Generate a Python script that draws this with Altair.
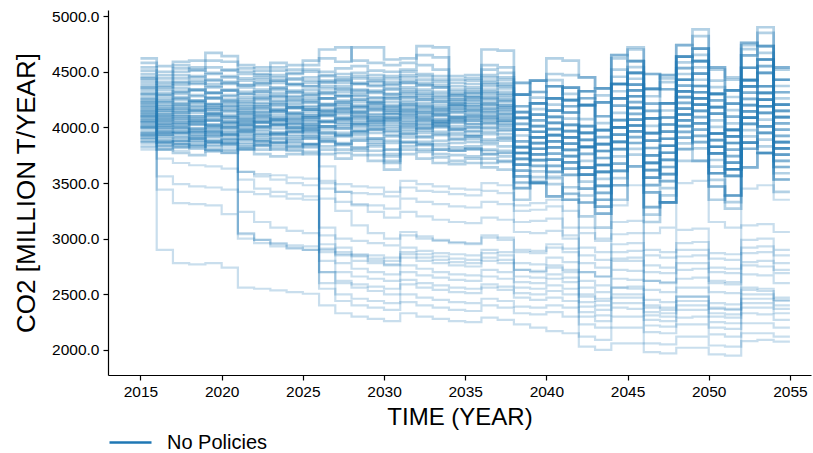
import altair as alt
import pandas as pd

years = list(range(2015, 2056))

# ---- upper band runs (CO2, million t/year), one value per year 2015..2055 ----
u01 = [3870,3800,3770,3750,3790,3770,3800,3760,3740,3760,3780,3760,3720,3750,3700,3620,3760,3720,3680,3670,3680,3640,3620,3350,3502,3380,3350,3200,3100,3480,3650,3150,3327,3700,3700,3469,3270,3640,3770,3420,3420]
u02 = [3905,3840,3820,3850,3800,3790,3830,3800,3830,3790,3760,3800,3770,3790,3750,3680,3800,3780,3730,3700,3720,3680,3700,3455,3502,3380,3462,3325,3350,3480,3650,3283,3327,3908,3812,3350,3388,3864,3770,3532,3532]
u03 = [3930,3870,3850,3830,3870,3850,3810,3840,3800,3820,3850,3830,3800,3820,3790,3700,3830,3800,3760,3750,3740,3720,3690,3560,3502,3490,3350,3325,3225,3350,3755,3416,3327,3804,3700,3469,3388,3640,3770,3644,3644]
u04 = [3960,3900,3880,3900,3860,3880,3850,3870,3900,3860,3840,3870,3850,3880,3830,3760,3860,3840,3800,3790,3810,3760,3740,3455,3604,3710,3574,3575,3350,3610,3965,3283,3454,3804,3924,3588,3624,3864,3770,3644,3644]
u05 = [3985,3920,3910,3880,3920,3900,3930,3890,3870,3900,3920,3890,3860,3900,3880,3800,3910,3870,3850,3820,3830,3800,3790,3560,3502,3600,3686,3450,3225,3610,3860,3416,3327,3908,4036,3588,3388,3864,3890,3532,3532]
u06 = [4010,3950,3940,3960,3930,3950,3900,3930,3950,3920,3900,3940,3920,3950,3900,3860,3940,3920,3880,3860,3870,3850,3830,3665,3808,3710,3686,3450,3475,3870,3965,3549,3708,4012,4036,3826,3624,3976,4130,3756,3756]
u07 = [4040,3970,3960,3990,3970,3930,3960,3980,3940,3960,3990,3950,3930,3960,3980,3930,3960,3990,3940,3900,3920,3890,3900,3665,3706,3600,3686,3575,3600,3740,3860,3549,3581,4116,4036,3588,3624,4088,4010,3756,3756]
u08 = [4065,4000,4000,3970,4010,3990,3970,4000,4020,3990,3960,3990,4010,3970,3990,3960,4000,3970,4000,3950,3930,3960,3940,3770,3706,3710,3574,3575,3475,3610,3965,3682,3581,4012,3924,3707,3624,3864,4010,3868,3868]
u09 = [4090,4020,4030,4050,4000,4020,4040,4010,3990,4020,4040,4010,3990,4030,4010,3990,4030,4050,4010,3980,3960,4000,3980,3665,3808,3930,3798,3825,3600,3870,4175,3549,3708,4012,4148,3826,3860,4088,4010,3868,3868]
u10 = [4110,4050,4060,4030,4060,4040,4010,4040,4070,4040,4010,4050,4070,4040,4020,4050,4060,4030,4050,4010,4000,4040,4020,3770,3706,3820,3910,3700,3475,3870,4070,3682,3581,4116,4260,3826,3624,4088,4130,3756,3756]
u11 = [4130,4070,4080,4100,4070,4050,4080,4060,4040,4070,4090,4060,4040,4080,4060,4030,4090,4070,4040,4050,4030,4070,4050,3770,3910,3820,3798,3575,3600,4000,4070,3682,3835,4116,4148,3945,3742,4088,4250,3868,3868]
u12 = [4150,4090,4100,4080,4110,4090,4060,4090,4110,4080,4060,4100,4120,4090,4060,4080,4110,4090,4070,4040,4060,4090,4060,3875,3910,3820,3910,3825,3850,4000,4070,3815,3835,4324,4260,3826,3860,4312,4250,3980,3980]
u13 = [4175,4110,4130,4150,4120,4100,4130,4110,4090,4120,4140,4110,4090,4130,4110,4090,4140,4120,4100,4070,4090,4110,4090,3980,3910,3930,3798,3825,3725,3870,4175,3948,3835,4220,4148,3945,3860,4088,4250,4092,4092]
u14 = [4195,4130,4150,4130,4160,4140,4110,4140,4160,4130,4110,4150,4170,4140,4120,4150,4160,4140,4120,4100,4110,4140,4120,3770,3910,4040,3910,3950,3725,4000,4280,3682,3835,4116,4260,3945,3978,4200,4130,3980,3980]
u15 = [4220,4150,4170,4190,4160,4180,4150,4170,4140,4170,4190,4160,4140,4180,4160,4130,4190,4170,4150,4130,4140,4170,4150,3875,3808,3930,4022,3825,3600,4000,4175,3815,3708,4220,4372,3945,3742,4200,4250,3868,3868]
u16 = [4240,4170,4200,4180,4210,4190,4170,4190,4210,4180,4160,4200,4220,4190,4170,4200,4210,4190,4170,4150,4160,4200,4180,3980,4114,4040,4022,3825,3850,4260,4280,3948,4089,4324,4372,4183,3978,4312,4490,4092,4092]
u17 = [4265,4200,4220,4240,4210,4230,4200,4220,4190,4220,4240,4210,4190,4230,4210,4180,4240,4220,4200,4170,4190,4220,4200,3980,4012,3930,4022,3950,3975,4130,4175,3948,3962,4428,4372,3945,3978,4424,4370,4092,4092]
u18 = [4290,4220,4250,4230,4260,4240,4220,4250,4270,4240,4220,4260,4280,4250,4230,4260,4270,4250,4230,4200,4210,4250,4230,4085,4012,4040,3910,3950,3850,4000,4280,4081,3962,4324,4260,4064,3978,4200,4370,4204,4204]
u19 = [4310,4240,4270,4290,4260,4280,4250,4270,4240,4270,4290,4260,4240,4280,4260,4230,4290,4270,4250,4220,4240,4270,4250,3980,4114,4260,4134,4200,3975,4260,4490,3948,4089,4324,4484,4183,4214,4424,4370,4204,4204]
u20 = [4335,4260,4300,4280,4310,4290,4270,4290,4310,4280,4260,4300,4320,4290,4270,4300,4310,4290,4270,4230,4250,4290,4270,4085,4012,4150,4246,4075,3850,4260,4385,4081,3962,4428,4596,4183,3978,4424,4490,4092,4092]
u21 = [4355,4290,4320,4340,4310,4330,4300,4320,4290,4320,4340,4310,4290,4330,4310,4280,4340,4320,4300,4250,4270,4320,4300,4085,4216,4150,4134,3950,3975,4390,4385,4081,4216,4428,4484,4302,4096,4424,4610,4204,4204]
u22 = [4380,4310,4350,4330,4360,4340,4320,4340,4360,4330,4310,4350,4370,4340,4320,4350,4360,4340,4320,4270,4280,4340,4320,4190,4216,4150,4246,4200,4225,4390,4385,4214,4216,4636,4596,4183,4214,4648,4610,4316,4316]
u23 = [4405,4340,4380,4400,4370,4390,4360,4380,4350,4380,4400,4370,4350,4390,4370,4340,4400,4380,4360,4290,4300,4370,4350,4295,4216,4260,4134,4200,4100,4260,4490,4347,4216,4532,4484,4302,4214,4424,4610,4428,4428]
u24 = [4430,4360,4410,4390,4420,4400,4380,4400,4420,4390,4370,4410,4430,4400,4380,4410,4420,4400,4380,4300,4320,4400,4380,4085,4216,4370,4246,4325,4100,4390,4595,4081,4216,4428,4596,4302,4332,4536,4490,4316,4316]
u25 = [4455,4390,4440,4460,4430,4450,4420,4430,4400,4430,4450,4420,4400,4440,4420,4390,4450,4430,4410,4320,4340,4420,4400,4190,4114,4260,4358,4200,3975,4390,4490,4214,4089,4532,4708,4302,4096,4536,4610,4204,4204]
u26 = [4480,4410,4470,4450,4480,4460,4440,4450,4470,4440,4420,4460,4480,4460,4440,4460,4470,4460,4430,4340,4360,4450,4430,4295,4420,4370,4358,4200,4225,4650,4595,4347,4470,4636,4708,4540,4332,4648,4850,4428,4428]
u27 = [4510,4440,4500,4520,4490,4510,4480,4470,4450,4480,4500,4470,4450,4490,4470,4440,4500,4480,4460,4370,4390,4470,4450,4295,4318,4260,4358,4325,4350,4520,4490,4347,4343,4740,4708,4302,4332,4760,4730,4428,4428]
u28 = [4540,4470,4530,4510,4540,4520,4500,4480,4510,4490,4520,4500,4530,4550,4510,4500,4520,4560,4520,4400,4420,4520,4490,4400,4318,4370,4246,4325,4225,4390,4595,4480,4343,4636,4596,4421,4332,4536,4730,4540,4540]
u29 = [4580,4500,4560,4540,4670,4640,4530,4510,4540,4520,4560,4700,4720,4600,4580,4560,4580,4730,4720,4430,4440,4560,4540,4295,4420,4480,4470,4450,4350,4650,4700,4347,4470,4636,4820,4540,4450,4760,4730,4540,4540]
u30 = [4620,4550,4590,4600,4600,4590,4560,4540,4580,4560,4600,4620,4590,4720,4720,4610,4620,4650,4630,4460,4470,4700,4690,4400,4420,4620,4600,4450,4350,4620,4720,4480,4440,4740,4880,4520,4430,4740,4900,4520,4520]
v01 = [3925,3860,3850,3870,3830,3850,3880,3840,3860,3830,3850,3880,3840,3810,3850,3740,3870,3850,3800,3790,3800,3760,3770,3507,3655,3545,3406,3388,3288,3675,3807,3216,3390,3960,3868,3528,3329,3808,3950,3588,3588]
v02 = [4000,3940,3950,3920,3960,3930,3950,3910,3940,3960,3930,3910,3950,3930,3900,3880,3940,3910,3930,3890,3900,3870,3880,3717,3655,3655,3742,3512,3288,3675,3912,3616,3518,3960,3868,3766,3565,3920,3830,3700,3700]
v03 = [4030,3960,3980,3950,3940,3970,3990,3960,3940,3970,3990,3960,3930,3970,3950,3920,3980,3950,3960,3930,3920,3940,3910,3612,3553,3655,3630,3638,3412,3545,4017,3482,3518,3856,3980,3766,3565,3808,3950,3812,3812]
v04 = [4060,4000,4010,3990,4020,4000,3980,4010,4030,4000,3980,4010,4030,4000,3980,3970,4010,3990,4020,3980,3970,3990,3970,3612,3757,3875,3742,3638,3662,3805,3912,3616,3772,4064,4092,3648,3683,4144,4070,3700,3700]
v05 = [4080,4020,4030,4050,4020,4000,4030,4050,4020,4000,4030,4010,3990,4020,4040,4010,4030,4000,4020,3990,4000,4030,4000,3717,3859,3765,3630,3638,3538,3935,4017,3482,3644,4168,4092,3766,3565,4032,4190,3812,3812]
v06 = [4100,4040,4050,4030,4060,4040,4020,4050,4070,4040,4020,4050,4060,4030,4040,4060,4050,4020,4040,4060,4030,4050,4030,3822,3757,3765,3854,3638,3412,3805,4017,3748,3644,4064,3980,3886,3683,4032,3950,3812,3812]
v07 = [4120,4060,4080,4060,4090,4070,4050,4080,4060,4090,4070,4050,4080,4060,4090,4070,4080,4060,4050,4080,4060,4080,4060,3822,3757,3875,3854,3888,3662,3805,4227,3748,3772,4064,4204,4004,3801,4032,4190,4036,4036]
v08 = [4140,4080,4100,4080,4110,4090,4070,4100,4080,4060,4090,4110,4080,4100,4070,4090,4110,4080,4070,4090,4080,4100,4080,3717,3859,3985,3854,3762,3788,3935,4017,3748,3898,4168,4204,3766,3801,4256,4190,3812,3812]
v09 = [4160,4100,4120,4100,4130,4110,4090,4120,4140,4110,4090,4120,4140,4110,4090,4120,4130,4100,4120,4090,4100,4130,4110,3822,3961,3875,3742,3762,3662,4065,4122,3616,3772,4272,4204,3886,3683,4144,4310,3924,3924]
v10 = [4185,4120,4140,4160,4130,4150,4120,4140,4160,4130,4110,4140,4160,4130,4150,4120,4150,4130,4110,4140,4120,4150,4130,4032,3961,3985,4078,3888,3662,4065,4227,4014,3898,4272,4204,4124,3919,4256,4190,4036,4036]
v11 = [4210,4150,4170,4150,4180,4160,4140,4170,4150,4180,4160,4140,4170,4150,4180,4150,4170,4150,4140,4170,4150,4170,4160,3927,3859,3985,3966,4012,3788,3935,4332,3882,3898,4168,4316,4124,3919,4144,4310,4148,4148]
v12 = [4230,4170,4190,4210,4180,4200,4170,4190,4210,4180,4160,4190,4210,4180,4200,4170,4200,4180,4160,4190,4170,4200,4180,3822,3961,4095,3966,3888,3912,4065,4122,3882,4026,4272,4316,3886,3919,4368,4310,3924,3924]
v13 = [4255,4190,4210,4230,4200,4220,4190,4210,4230,4200,4180,4210,4230,4200,4220,4190,4220,4200,4180,4210,4190,4220,4200,4032,4165,4095,3966,4012,3912,4325,4332,3882,4026,4480,4428,4124,3919,4368,4550,4148,4148]
v14 = [4300,4230,4260,4240,4270,4250,4230,4260,4280,4250,4230,4260,4280,4250,4230,4260,4270,4250,4230,4200,4220,4260,4240,4137,4063,4095,4190,4012,3788,4195,4332,4148,4026,4376,4316,4242,4037,4368,4310,4148,4148]
v15 = [4360,4290,4320,4340,4310,4330,4300,4320,4340,4310,4290,4320,4340,4310,4330,4300,4320,4300,4280,4250,4270,4310,4290,4137,4063,4205,4190,4262,4038,4195,4542,4148,4152,4376,4540,4362,4155,4368,4550,4372,4372]
v16 = [4440,4370,4400,4420,4390,4410,4380,4400,4420,4390,4370,4400,4420,4390,4410,4380,4400,4380,4360,4290,4310,4390,4370,4137,4267,4425,4302,4262,4288,4455,4437,4280,4406,4584,4652,4242,4273,4704,4670,4260,4260]

# ---- runs that fall away to the lower group ----
a1 = [3820,2900,2780,2770,2780,2740,2560,2550,2535,2520,2505,2400,2330,2300,2280,2260,2330,2300,2280,2260,2250,2290,2270,2230,2200,2170,2150,2030,2000,2060,2060,1980,1970,2020,2020,1960,1950,2080,2090,2075,2075]
a2 = [3800,3440,3320,3310,3300,3220,3040,2990,2950,2920,2900,2700,2600,2560,2530,2500,2590,2560,2540,2520,2510,2560,2540,2470,2450,2470,2440,2300,2260,2380,2370,2220,2210,2290,2300,2200,2190,2330,2320,2270,2270]
a3 = [3830,3560,3490,3470,3460,3440,3420,3400,3380,3360,3350,2950,2850,2800,2780,2760,2860,2830,2810,2790,2780,2830,2810,2720,2700,2760,2720,2560,2520,2640,2630,2450,2430,2560,2560,2420,2410,2560,2550,2470,2470]
a4 = [3850,3720,3680,3660,3650,3630,3600,3580,3570,3550,3540,3520,3490,3470,3460,3420,3520,3490,3470,3450,3440,3500,3480,3300,3320,3350,3250,3050,2980,3150,3160,2900,2880,3080,3090,2870,2860,3120,3130,3060,3060]
b1 = [3950,3880,3870,3900,3880,3860,3530,3450,3420,3400,3380,3360,3330,3310,3300,3270,3360,3330,3310,3290,3280,3330,3310,3150,3160,3180,3100,2920,2880,3040,3050,2850,2830,2960,2970,2820,2810,2990,3000,2900,2900]
b2 = [4000,3930,3920,3940,3910,3900,3240,3150,3100,3070,3050,3030,3000,2980,2960,2940,3030,3000,2980,2960,2950,3010,2990,2880,2870,2920,2880,2700,2660,2800,2800,2620,2600,2720,2730,2600,2590,2760,2750,2690,2690]
b3 = [3900,3830,3820,3840,3800,3800,3050,2990,2960,2940,2930,2910,2880,2860,2850,2830,2920,2890,2870,2860,2850,2900,2880,2780,2770,2830,2790,2620,2580,2720,2710,2540,2520,2640,2650,2520,2510,2680,2670,2600,2600]
b4 = [4050,3980,3990,3960,3980,3950,3000,2960,2930,2910,2900,2880,2860,2840,2820,2800,2880,2860,2840,2820,2810,2870,2850,2720,2710,2740,2700,2500,2460,2560,2550,2400,2380,2480,2480,2380,2370,2540,2530,2450,2450]
b5 = [3870,3800,3790,3810,3780,3770,3600,3560,3530,3500,3480,3450,3420,3410,3400,3380,3460,3430,3420,3400,3390,3430,3410,3250,3260,3290,3000,2780,2740,2880,2890,2700,2690,2840,2850,2700,2690,2870,2880,2780,2780]
c1 = [3900,3830,3850,3830,3860,3840,3820,3850,3870,3840,3820,3650,3420,3300,3240,3190,3240,3200,3170,3150,3140,3190,3170,3060,3050,3070,3030,2850,2810,2950,2960,2760,2740,2900,2900,2740,2730,2920,2930,2850,2850]
c2 = [3950,3880,3900,3920,3890,3870,3900,3880,3860,3890,3910,3100,2920,2850,2800,2770,2830,2800,2780,2760,2750,2800,2780,2660,2650,2680,2650,2480,2440,2560,2570,2380,2360,2480,2480,2370,2360,2500,2500,2440,2440]
c3 = [4000,3930,3950,3930,3960,3940,3920,3940,3960,3930,3950,2900,2780,2730,2700,2680,2760,2730,2700,2680,2670,2720,2700,2610,2600,2640,2610,2430,2400,2500,2500,2340,2330,2440,2440,2330,2320,2460,2460,2400,2400]
c4 = [4050,3990,4000,4020,3990,4010,3980,4000,4020,3990,3970,2800,2700,2660,2640,2620,2700,2670,2650,2630,2620,2660,2640,2560,2550,2580,2550,2390,2360,2470,2470,2310,2300,2400,2400,2300,2290,2420,2420,2370,2370]
c5 = [3880,3810,3830,3810,3840,3820,3800,3830,3810,3800,3820,2700,2620,2590,2570,2550,2630,2600,2580,2560,2550,2590,2570,2510,2500,2530,2500,2340,2310,2420,2420,2270,2260,2360,2360,2250,2240,2380,2380,2330,2330]
c6 = [4100,4030,4040,4060,4030,4050,4020,4040,4060,4030,4010,2600,2500,2460,2440,2420,2500,2470,2450,2430,2420,2460,2440,2390,2380,2400,2380,2230,2200,2300,2300,2160,2150,2230,2230,2140,2120,2240,2240,2200,2200]
c7 = [3930,3860,3880,3900,3870,3890,3860,3880,3900,3870,3850,3500,3250,3120,3050,3000,3060,3020,2990,2970,2960,3030,3010,2900,2890,2950,2910,2700,2660,2820,2830,2620,2610,2780,2780,2620,2610,2790,2800,2720,2720]
c8 = [4020,3950,3960,3980,3950,3930,3960,3940,3920,3950,3970,2550,2440,2400,2380,2360,2430,2400,2380,2360,2350,2400,2380,2330,2320,2340,2300,2120,2090,2200,2200,2060,2050,2120,2120,2040,2030,2150,2150,2120,2120]
d1 = [3940,3870,3880,3900,3880,3860,3890,3870,3850,3880,3900,3870,3850,3880,3860,3800,3870,3850,3830,3800,3810,3790,3770,3500,3520,3560,3400,3100,3000,3300,3480,3050,3100,3500,3520,3150,3100,3450,3480,3350,3350]

upper_runs = {
    "u01": u01, "u02": u02, "u03": u03, "u04": u04, "u05": u05, "u06": u06,
    "u07": u07, "u08": u08, "u09": u09, "u10": u10, "u11": u11, "u12": u12,
    "u13": u13, "u14": u14, "u15": u15, "u16": u16, "u17": u17, "u18": u18,
    "u19": u19, "u20": u20, "u21": u21, "u22": u22, "u23": u23, "u24": u24,
    "u25": u25, "u26": u26, "u27": u27, "u28": u28, "u29": u29, "u30": u30,
    "v01": v01, "v02": v02, "v03": v03, "v04": v04, "v05": v05, "v06": v06,
    "v07": v07, "v08": v08, "v09": v09, "v10": v10, "v11": v11, "v12": v12,
    "v13": v13, "v14": v14, "v15": v15, "v16": v16,
}
lower_runs = {
    "a1": a1, "a2": a2, "a3": a3, "a4": a4, "b1": b1, "b2": b2, "b3": b3,
    "b4": b4, "b5": b5, "c1": c1, "c2": c2, "c3": c3, "c4": c4, "c5": c5,
    "c6": c6, "c7": c7, "c8": c8, "d1": d1,
}

x_ticks = [2015, 2020, 2025, 2030, 2035, 2040, 2045, 2050, 2055]
y_ticks = [2000, 2500, 3000, 3500, 4000, 4500, 5000]

rows = []
for grp, runs in (("lower", lower_runs), ("upper", upper_runs)):
    for name, vals in runs.items():
        assert len(vals) == len(years), (name, len(vals))
        for yr, v in zip(years, vals):
            rows.append({"run": name, "year": yr, "co2": v, "grp": grp,
                         "scenario": "No Policies"})
df = pd.DataFrame(rows)

FONT = "Liberation Sans, Arial, sans-serif"

x_enc = alt.X("year:Q",
              scale=alt.Scale(domain=[2013.0, 2056.3], nice=False, zero=False),
              axis=alt.Axis(values=x_ticks, format="d", title="TIME (YEAR)",
                            titlePadding=6))
y_enc = alt.Y("co2:Q",
              scale=alt.Scale(domain=[1775, 5055], nice=False, zero=False),
              axis=alt.Axis(values=y_ticks, format=".1f",
                            title="CO2 [MILLION T/YEAR]", titlePadding=12))
c_enc = alt.Color("scenario:N",
                  scale=alt.Scale(domain=["No Policies"], range=["#1f77b4"]),
                  legend=alt.Legend(title=None, orient="none", legendX=0,
                                    legendY=410, symbolType="stroke",
                                    symbolSize=1764, symbolStrokeWidth=2.6,
                                    symbolOpacity=1, labelFontSize=20,
                                    labelOffset=14, labelFont=FONT,
                                    labelColor="#000"))

base = alt.Chart(df).encode(x=x_enc, y=y_enc, color=c_enc, detail="run:N")

lower = base.transform_filter(alt.datum.grp == "lower").mark_line(
    interpolate="step-after", strokeWidth=2.2, opacity=0.24, clip=True)
upper = base.transform_filter(alt.datum.grp == "upper").mark_line(
    interpolate="step-after", strokeWidth=2.7, opacity=0.34, clip=True)

chart = alt.layer(lower, upper).properties(
    width=703, height=365,
    autosize=alt.AutoSizeParams(type="none"),
    padding={"left": 108, "top": 10, "right": 2, "bottom": 78},
).configure_view(
    strokeWidth=0
).configure_axis(
    grid=False, domainColor="#000", domainWidth=1.2, tickColor="#000",
    tickWidth=1.2, tickSize=5, labelFont=FONT, labelFontSize=15.5,
    labelColor="#000", titleFont=FONT, titleFontSize=24,
    titleFontWeight="normal", titleColor="#000", labelPadding=4,
).configure_axisY(
    titleFontSize=26
)

chart.save("out.html", embed_options={"renderer": "svg", "actions": False})
